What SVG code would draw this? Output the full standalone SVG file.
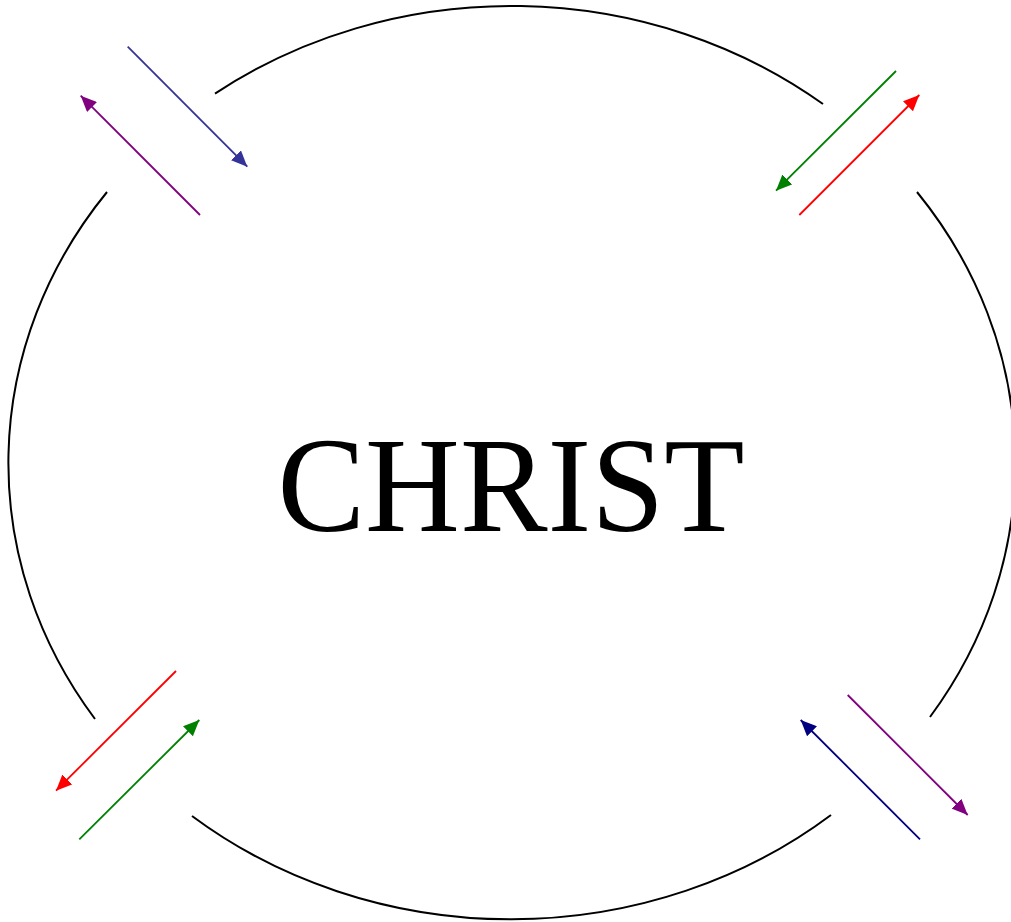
<svg xmlns="http://www.w3.org/2000/svg" width="1011" height="922" viewBox="0 0 1011 922">
<style>
.arc{fill:none;stroke:#000;stroke-width:2}
.ar{fill:none;stroke-width:1.8}
.label{font-family:"Palatino Linotype","Liberation Serif","DejaVu Serif",serif;font-size:136px;fill:#000}
</style>
<defs>
<marker id="mBlue" markerUnits="userSpaceOnUse" markerWidth="17" markerHeight="14" refX="16" refY="7" orient="auto"><path d="M0,0 L16,7 L0,14 z" fill="#333399"/></marker>
<marker id="mPurple" markerUnits="userSpaceOnUse" markerWidth="17" markerHeight="14" refX="16" refY="7" orient="auto"><path d="M0,0 L16,7 L0,14 z" fill="#800080"/></marker>
<marker id="mGreen" markerUnits="userSpaceOnUse" markerWidth="17" markerHeight="14" refX="16" refY="7" orient="auto"><path d="M0,0 L16,7 L0,14 z" fill="#008000"/></marker>
<marker id="mRed" markerUnits="userSpaceOnUse" markerWidth="17" markerHeight="14" refX="16" refY="7" orient="auto"><path d="M0,0 L16,7 L0,14 z" fill="#ff0000"/></marker>
<marker id="mNavy" markerUnits="userSpaceOnUse" markerWidth="17" markerHeight="14" refX="16" refY="7" orient="auto"><path d="M0,0 L16,7 L0,14 z" fill="#000080"/></marker>
</defs>
<rect width="1011" height="922" fill="#fff"/>
<g id="circle">
<path class="arc" d="M215,93.6 A503,456 0 0 1 823,104"/>
<path class="arc" d="M917,192 A503,456 0 0 1 930,717"/>
<path class="arc" d="M831,815 A503,456 0 0 1 192,816"/>
<path class="arc" d="M95,719 A503,456 0 0 1 107,192"/>
</g>
<g id="christ">
<text class="label" x="511" y="531" text-anchor="middle" textLength="467" lengthAdjust="spacingAndGlyphs">CHRIST</text>
</g>
<g id="connectors">
<line class="ar" x1="127.7" y1="46.7" x2="247.3" y2="166.7" stroke="#333399" marker-end="url(#mBlue)"/>
<line class="ar" x1="200" y1="215" x2="80.7" y2="95.7" stroke="#800080" marker-end="url(#mPurple)"/>
<line class="ar" x1="896" y1="71" x2="776" y2="190.7" stroke="#008000" marker-end="url(#mGreen)"/>
<line class="ar" x1="799.3" y1="215" x2="919.3" y2="95" stroke="#ff0000" marker-end="url(#mRed)"/>
<line class="ar" x1="176" y1="671" x2="56" y2="790.7" stroke="#ff0000" marker-end="url(#mRed)"/>
<line class="ar" x1="79.3" y1="839.3" x2="199.3" y2="720" stroke="#008000" marker-end="url(#mGreen)"/>
<line class="ar" x1="847.7" y1="695" x2="967.7" y2="815" stroke="#800080" marker-end="url(#mPurple)"/>
<line class="ar" x1="920" y1="839.3" x2="800.7" y2="720" stroke="#000080" marker-end="url(#mNavy)"/>
</g>
</svg>
